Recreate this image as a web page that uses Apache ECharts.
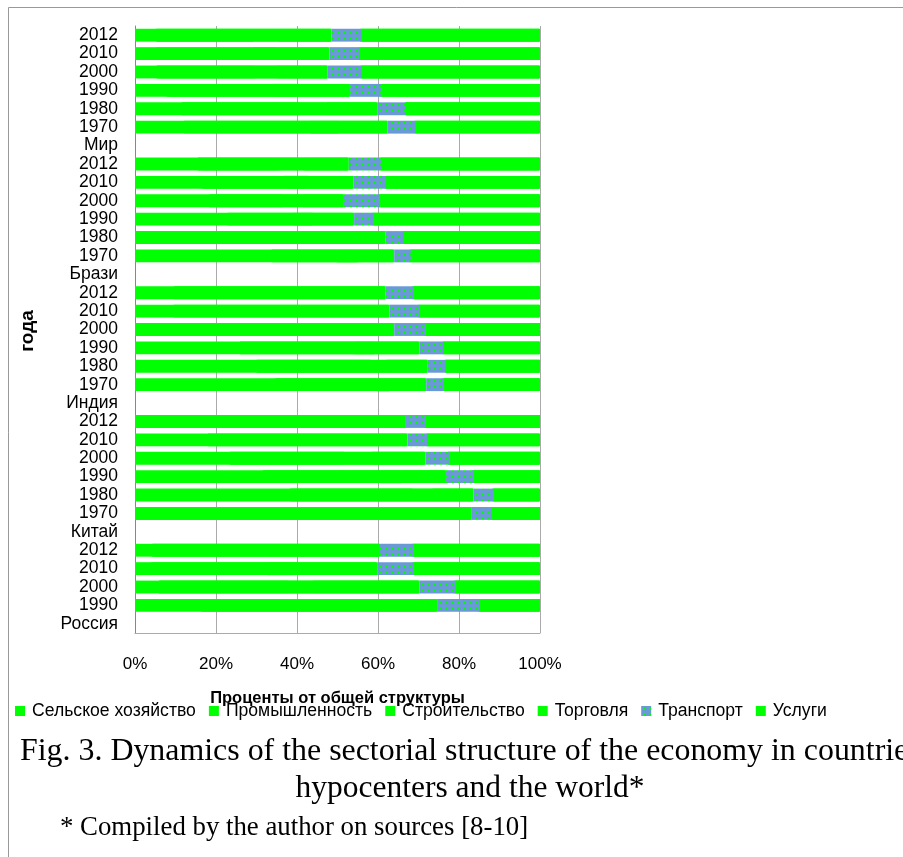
<!DOCTYPE html>
<html>
<head>
<meta charset="utf-8">
<script src="https://cdn.jsdelivr.net/npm/echarts@6/dist/echarts.min.js"></script>
<style>
html,body{margin:0;padding:0;background:#fff;}
#chart{width:903px;height:857px;}
</style>
</head>
<body>
<div id="chart"></div>
<script>
// Categories, top to bottom
var categories = ['2012','2010','2000','1990','1980','1970','Мир',
  '2012','2010','2000','1990','1980','1970','Брази',
  '2012','2010','2000','1990','1980','1970','Индия',
  '2012','2010','2000','1990','1980','1970','Китай',
  '2012','2010','2000','1990','Россия'];
var seriesNames = ['Сельское хозяйство','Промышленность','Строительство','Торговля','Транспорт','Услуги'];
var agriculture  = [5.5,5.5,5.6,8.1,11.8,12.4,null, 15.8,16.9,18.6,23.1,29.9,34.0,null, 9.9,9.8,14.0,26.2,30.3,34.9,null, 17.9,18.3,23.7,31.8,38.6,41.0,null, 4.5,4.3,6.2,16.6,null];
var industry     = [24,23.5,24,26,29,31,null, 20,20,18,16,17,16,null, 30,30.5,31,28,28,25,null, 27,27,28,29,30,28,null, 28,28.5,32,38,null];
var construction = [6,6,5.5,6,6.5,7,null, 6,6,5,5,5,5,null, 9,9.5,7,5,4,3,null, 8,8,7,5,5,5,null, 8,7,6,9,null];
var trade        = [13,13,12.5,13,12.5,12,null, 11,11,10,10,10,9,null, 13,13,12,11,10,9,null, 14,14,13,11,10,9,null, 20,20,26,11,null];
var transport    = [7.4,7.4,8.4,7.6,7.1,6.9,null, 8.1,8.1,8.7,4.7,4.5,4.1,null, 6.8,7.4,7.6,6.1,4.5,4.2,null, 4.8,5.0,5.8,6.7,4.9,5.1,null, 8.2,8.9,8.9,10.4,null];
var services     = [44.1,44.6,44.0,39.3,33.1,30.7,null, 39.1,38.0,39.7,41.2,33.6,31.9,null, 31.3,29.8,28.4,23.7,23.2,23.9,null, 28.3,27.7,22.5,16.5,11.5,11.9,null, 31.3,31.3,20.9,15.0,null];
var xTicks = [0,20,40,60,80,100];

var values = [agriculture, industry, construction, trade, transport, services];

// pattern for transport
var tile = document.createElement('canvas');
tile.width = 6; tile.height = 6;
var tctx = tile.getContext('2d');
tctx.fillStyle = '#6A9AD6';
tctx.fillRect(0,0,6,6);
tctx.fillStyle = '#00FF00';
tctx.fillRect(2,2,2,2);

var green = '#00FF00';
var series = seriesNames.map(function(n,i){
  var isT = i === 4;
  return {
    name: n, type: 'bar', stack: 'total',
    barCategoryGap: '30%',
    data: values[i],
    z: isT ? 3 : 2,
    itemStyle: isT ? { color: { image: tile, repeat: 'repeat' }, borderWidth: 0 }
                   : { color: green, borderWidth: 0, shadowColor: green, shadowBlur: 0, shadowOffsetX: (i === 0 ? 0 : -1), shadowOffsetY: 0 },
    emphasis: { disabled: true }
  };
});

var chart = echarts.init(document.getElementById('chart'), null, {renderer:'canvas'});
chart.setOption({
  backgroundColor: '#fff',
  animation: false,
  grid: { left: 135, right: 363, top: 26, bottom: 224, containLabel: false },
  xAxis: {
    type: 'value', min: xTicks[0], max: xTicks[xTicks.length-1], interval: 20,
    name: 'Проценты от общей структуры',
    nameLocation: 'middle', nameGap: 57,
    nameTextStyle: { fontSize: 16.5, fontWeight: 'bold', color: '#000', fontFamily: 'Liberation Sans' },
    axisLine: { show: true, lineStyle: { color: '#aaa', width: 1 } },
    axisTick: { show: false },
    splitLine: { show: true, lineStyle: { color: '#aaa', width: 1 } },
    axisLabel: { formatter: '{value}%', margin: 23, fontSize: 17, color: '#000', fontFamily: 'Liberation Sans' }
  },
  yAxis: {
    type: 'category', inverse: true, data: categories,
    axisLine: { show: true, lineStyle: { color: '#888', width: 1 } },
    axisTick: { show: false },
    axisLabel: { margin: 17, fontSize: 17.5, color: '#000', fontFamily: 'Liberation Sans', interval: 0 }
  },
  legend: {
    left: 15, top: 702, padding: 0,
    itemWidth: 10, itemHeight: 10, itemGap: 13,
    icon: 'rect',
    textStyle: { fontSize: 17.6, color: '#000', fontFamily: 'Liberation Sans', padding: [0,0,0,2] },
    data: seriesNames
  },
  graphic: [
    { type: 'rect', shape: { x: 8.5, y: 7.5, width: 1000, height: 1000 }, style: { fill: null, stroke: '#999', lineWidth: 1 }, silent: true },
    { type: 'text', x: 28, y: 331, rotation: Math.PI/2,
      style: { text: 'года', fontSize: 19, fontWeight: 'bold', fontFamily: 'Liberation Sans', fill: '#000', align: 'center', verticalAlign: 'middle' } },
    { type: 'text', x: 20, y: 752,
      style: { text: 'Fig. 3. Dynamics of the sectorial structure of the economy in countries', fontSize: 31.9, fontFamily: 'Liberation Serif', fill: '#000', align: 'left', verticalAlign: 'middle' } },
    { type: 'text', x: 470, y: 789,
      style: { text: 'hypocenters and the world*', fontSize: 31.5, fontFamily: 'Liberation Serif', fill: '#000', align: 'center', verticalAlign: 'middle' } },
    { type: 'text', x: 60, y: 828,
      style: { text: '* Compiled by the author on sources [8-10]', fontSize: 26.8, fontFamily: 'Liberation Serif', fill: '#000', align: 'left', verticalAlign: 'middle' } }
  ],
  series: series
});
</script>
</body>
</html>
